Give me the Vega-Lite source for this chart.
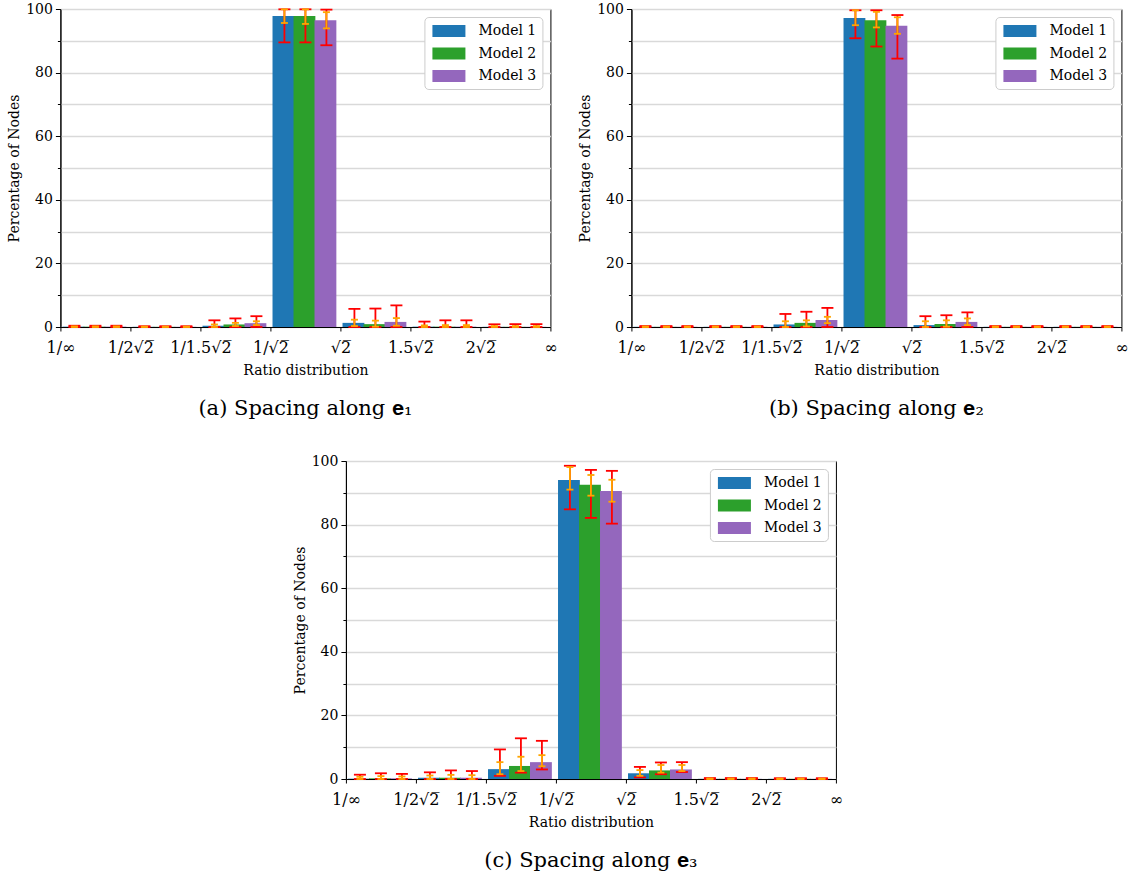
{
  "$schema": "https://vega.github.io/schema/vega-lite/v6.json",
  "background": "white",
  "padding": {"top": 1, "left": 7, "right": 0, "bottom": 0},
  "datasets": {
    "edges": [{"pos": 0}, {"pos": 1}, {"pos": 2}, {"pos": 3}, {"pos": 4}, {"pos": 5}, {"pos": 6}, {"pos": 7}],
    "bars": [
      {"p": "a", "b": 0, "m": "Model 1", "v": 0.1, "rl": 0, "rh": 0.4, "ol": 0, "oh": 0.2},
      {"p": "a", "b": 0, "m": "Model 2", "v": 0.1, "rl": 0, "rh": 0.4, "ol": 0, "oh": 0.2},
      {"p": "a", "b": 0, "m": "Model 3", "v": 0.1, "rl": 0, "rh": 0.4, "ol": 0, "oh": 0.2},
      {"p": "a", "b": 1, "m": "Model 1", "v": 0.05, "rl": 0, "rh": 0.25, "ol": 0, "oh": 0.12},
      {"p": "a", "b": 1, "m": "Model 2", "v": 0.05, "rl": 0, "rh": 0.25, "ol": 0, "oh": 0.12},
      {"p": "a", "b": 1, "m": "Model 3", "v": 0.05, "rl": 0, "rh": 0.25, "ol": 0, "oh": 0.12},
      {"p": "a", "b": 2, "m": "Model 1", "v": 0.4, "rl": 0, "rh": 2.1, "ol": 0, "oh": 0.8},
      {"p": "a", "b": 2, "m": "Model 2", "v": 0.8, "rl": 0, "rh": 2.7, "ol": 0.3, "oh": 1.3},
      {"p": "a", "b": 2, "m": "Model 3", "v": 1.2, "rl": 0, "rh": 3.4, "ol": 0.6, "oh": 1.8},
      {"p": "a", "b": 3, "m": "Model 1", "v": 97.8, "rl": 89.5, "rh": 99.9, "ol": 95.6, "oh": 99.9},
      {"p": "a", "b": 3, "m": "Model 2", "v": 97.8, "rl": 89.5, "rh": 99.9, "ol": 95.3, "oh": 99.9},
      {"p": "a", "b": 3, "m": "Model 3", "v": 96.5, "rl": 88.6, "rh": 99.8, "ol": 93.9, "oh": 99.0},
      {"p": "a", "b": 4, "m": "Model 1", "v": 1.3, "rl": 0, "rh": 5.7, "ol": 0.3, "oh": 2.3},
      {"p": "a", "b": 4, "m": "Model 2", "v": 0.9, "rl": 0, "rh": 5.8, "ol": 0.1, "oh": 2.0},
      {"p": "a", "b": 4, "m": "Model 3", "v": 1.6, "rl": 0, "rh": 6.8, "ol": 0.4, "oh": 2.8},
      {"p": "a", "b": 5, "m": "Model 1", "v": 0.1, "rl": 0, "rh": 1.7, "ol": 0, "oh": 0.5},
      {"p": "a", "b": 5, "m": "Model 2", "v": 0.1, "rl": 0, "rh": 2.1, "ol": 0, "oh": 0.6},
      {"p": "a", "b": 5, "m": "Model 3", "v": 0.1, "rl": 0, "rh": 2.1, "ol": 0, "oh": 0.6},
      {"p": "a", "b": 6, "m": "Model 1", "v": 0.05, "rl": 0, "rh": 0.85, "ol": 0, "oh": 0.3},
      {"p": "a", "b": 6, "m": "Model 2", "v": 0.05, "rl": 0, "rh": 0.9, "ol": 0, "oh": 0.3},
      {"p": "a", "b": 6, "m": "Model 3", "v": 0.05, "rl": 0, "rh": 0.9, "ol": 0, "oh": 0.3},
      {"p": "b", "b": 0, "m": "Model 1", "v": 0.05, "rl": 0, "rh": 0.3, "ol": 0, "oh": 0.15},
      {"p": "b", "b": 0, "m": "Model 2", "v": 0.05, "rl": 0, "rh": 0.3, "ol": 0, "oh": 0.15},
      {"p": "b", "b": 0, "m": "Model 3", "v": 0.05, "rl": 0, "rh": 0.3, "ol": 0, "oh": 0.15},
      {"p": "b", "b": 1, "m": "Model 1", "v": 0.05, "rl": 0, "rh": 0.3, "ol": 0, "oh": 0.15},
      {"p": "b", "b": 1, "m": "Model 2", "v": 0.05, "rl": 0, "rh": 0.3, "ol": 0, "oh": 0.15},
      {"p": "b", "b": 1, "m": "Model 3", "v": 0.05, "rl": 0, "rh": 0.3, "ol": 0, "oh": 0.15},
      {"p": "b", "b": 2, "m": "Model 1", "v": 0.8, "rl": 0, "rh": 4.1, "ol": 0, "oh": 1.8},
      {"p": "b", "b": 2, "m": "Model 2", "v": 1.3, "rl": 0, "rh": 4.8, "ol": 0.2, "oh": 2.1},
      {"p": "b", "b": 2, "m": "Model 3", "v": 2.2, "rl": 0, "rh": 6.0, "ol": 1.2, "oh": 3.2},
      {"p": "b", "b": 3, "m": "Model 1", "v": 97.2, "rl": 90.8, "rh": 99.6, "ol": 94.9, "oh": 99.6},
      {"p": "b", "b": 3, "m": "Model 2", "v": 96.5, "rl": 88.2, "rh": 99.6, "ol": 94.2, "oh": 99.1},
      {"p": "b", "b": 3, "m": "Model 3", "v": 94.7, "rl": 84.4, "rh": 98.1, "ol": 92.2, "oh": 97.4},
      {"p": "b", "b": 4, "m": "Model 1", "v": 0.6, "rl": 0, "rh": 3.4, "ol": 0, "oh": 1.8},
      {"p": "b", "b": 4, "m": "Model 2", "v": 0.95, "rl": 0, "rh": 3.7, "ol": 0.1, "oh": 2.1},
      {"p": "b", "b": 4, "m": "Model 3", "v": 1.6, "rl": 0, "rh": 4.6, "ol": 0.6, "oh": 2.7},
      {"p": "b", "b": 5, "m": "Model 1", "v": 0.05, "rl": 0, "rh": 0.3, "ol": 0, "oh": 0.15},
      {"p": "b", "b": 5, "m": "Model 2", "v": 0.05, "rl": 0, "rh": 0.3, "ol": 0, "oh": 0.15},
      {"p": "b", "b": 5, "m": "Model 3", "v": 0.05, "rl": 0, "rh": 0.3, "ol": 0, "oh": 0.15},
      {"p": "b", "b": 6, "m": "Model 1", "v": 0.05, "rl": 0, "rh": 0.3, "ol": 0, "oh": 0.15},
      {"p": "b", "b": 6, "m": "Model 2", "v": 0.05, "rl": 0, "rh": 0.3, "ol": 0, "oh": 0.15},
      {"p": "b", "b": 6, "m": "Model 3", "v": 0.05, "rl": 0, "rh": 0.3, "ol": 0, "oh": 0.15},
      {"p": "c", "b": 0, "m": "Model 1", "v": 0.1, "rl": 0, "rh": 1.35, "ol": 0, "oh": 0.7},
      {"p": "c", "b": 0, "m": "Model 2", "v": 0.2, "rl": 0, "rh": 1.8, "ol": 0, "oh": 0.9},
      {"p": "c", "b": 0, "m": "Model 3", "v": 0.2, "rl": 0, "rh": 1.6, "ol": 0, "oh": 0.8},
      {"p": "c", "b": 1, "m": "Model 1", "v": 0.4, "rl": 0, "rh": 2.1, "ol": 0, "oh": 1.1},
      {"p": "c", "b": 1, "m": "Model 2", "v": 0.4, "rl": 0, "rh": 2.7, "ol": 0, "oh": 1.3},
      {"p": "c", "b": 1, "m": "Model 3", "v": 0.4, "rl": 0, "rh": 2.5, "ol": 0, "oh": 1.2},
      {"p": "c", "b": 2, "m": "Model 1", "v": 3.1, "rl": 1.0, "rh": 9.3, "ol": 1.5, "oh": 5.3},
      {"p": "c", "b": 2, "m": "Model 2", "v": 4.1, "rl": 2.0, "rh": 12.8, "ol": 2.5, "oh": 7.0},
      {"p": "c", "b": 2, "m": "Model 3", "v": 5.3, "rl": 3.0, "rh": 12.0, "ol": 4.0, "oh": 7.5},
      {"p": "c", "b": 3, "m": "Model 1", "v": 94.0, "rl": 84.8, "rh": 98.5, "ol": 91.0, "oh": 98.1},
      {"p": "c", "b": 3, "m": "Model 2", "v": 92.5, "rl": 82.1, "rh": 97.2, "ol": 89.1, "oh": 95.6},
      {"p": "c", "b": 3, "m": "Model 3", "v": 90.6, "rl": 80.3, "rh": 96.9, "ol": 87.2, "oh": 94.1},
      {"p": "c", "b": 4, "m": "Model 1", "v": 1.8, "rl": 0.5, "rh": 3.8, "ol": 1.0, "oh": 2.8},
      {"p": "c", "b": 4, "m": "Model 2", "v": 2.7, "rl": 1.5, "rh": 5.2, "ol": 2.0, "oh": 4.4},
      {"p": "c", "b": 4, "m": "Model 3", "v": 3.0, "rl": 2.2, "rh": 5.3, "ol": 2.5, "oh": 4.4},
      {"p": "c", "b": 5, "m": "Model 1", "v": 0.05, "rl": 0, "rh": 0.3, "ol": 0, "oh": 0.15},
      {"p": "c", "b": 5, "m": "Model 2", "v": 0.05, "rl": 0, "rh": 0.3, "ol": 0, "oh": 0.15},
      {"p": "c", "b": 5, "m": "Model 3", "v": 0.05, "rl": 0, "rh": 0.3, "ol": 0, "oh": 0.15},
      {"p": "c", "b": 6, "m": "Model 1", "v": 0.05, "rl": 0, "rh": 0.25, "ol": 0, "oh": 0.12},
      {"p": "c", "b": 6, "m": "Model 2", "v": 0.05, "rl": 0, "rh": 0.25, "ol": 0, "oh": 0.12},
      {"p": "c", "b": 6, "m": "Model 3", "v": 0.05, "rl": 0, "rh": 0.25, "ol": 0, "oh": 0.12}
    ]
  },
  "vconcat": [
    {
      "hconcat": [
        {
          "width": 490, "height": 318,
          "title": {"text": "(a) Spacing along 𝐞₁", "orient": "bottom", "offset": 21},
          "layer": [
            {
              "data": {"name": "edges"},
              "mark": {"type": "rule", "opacity": 0},
              "encoding": {
                "x": {"field": "pos", "type": "quantitative", "scale": {"domain": [0, 7], "nice": false, "zero": false},
                      "axis": {"values": [0, 1, 2, 3, 4, 5, 6, 7], "title": "Ratio distribution", "grid": false,
                               "labelExpr": "['1/∞','1/2√2̅','1/1.5√2̅','1/√2̅','√2̅','1.5√2̅','2√2̅','∞'][datum.value]"}}
              }
            },
            {
              "data": {"name": "bars"},
              "transform": [{"filter": "datum.p == 'a'"}],
              "encoding": {
                "x": {"field": "b", "type": "ordinal", "scale": {"paddingInner": 0, "paddingOuter": 0}, "axis": null},
                "xOffset": {"field": "m", "type": "nominal", "scale": {"paddingInner": 0, "paddingOuter": 0.1667}}
              },
              "layer": [
                {"mark": {"type": "bar", "width": {"band": 1.04}},
                 "encoding": {"y": {"field": "v", "type": "quantitative", "scale": {"domain": [0, 100], "nice": false}, "title": "Percentage of Nodes"},
                              "color": {"field": "m", "type": "nominal", "scale": {"domain": ["Model 1", "Model 2", "Model 3"], "range": ["#1f77b4", "#2ca02c", "#9467bd"]}, "legend": {"title": null}}}},
                {"mark": {"type": "rule", "color": "#ff0000", "strokeWidth": 1.8},
                 "encoding": {"y": {"field": "rl", "type": "quantitative", "title": "Percentage of Nodes"}, "y2": {"field": "rh"}}},
                {"mark": {"type": "tick", "color": "#ff0000", "size": 12, "thickness": 1.8, "opacity": 1},
                 "encoding": {"y": {"field": "rl", "type": "quantitative", "title": "Percentage of Nodes"}}},
                {"mark": {"type": "tick", "color": "#ff0000", "size": 12, "thickness": 1.8, "opacity": 1},
                 "encoding": {"y": {"field": "rh", "type": "quantitative", "title": "Percentage of Nodes"}}},
                {"mark": {"type": "rule", "color": "#ffa500", "strokeWidth": 1.8},
                 "encoding": {"y": {"field": "ol", "type": "quantitative", "title": "Percentage of Nodes"}, "y2": {"field": "oh"}}},
                {"mark": {"type": "tick", "color": "#ffa500", "size": 7, "thickness": 1.8, "opacity": 1},
                 "encoding": {"y": {"field": "ol", "type": "quantitative", "title": "Percentage of Nodes"}}},
                {"mark": {"type": "tick", "color": "#ffa500", "size": 7, "thickness": 1.8, "opacity": 1},
                 "encoding": {"y": {"field": "oh", "type": "quantitative", "title": "Percentage of Nodes"}}}
              ]
            }
          ],
          "resolve": {"scale": {"x": "independent"}}
        },
        {
          "width": 490, "height": 318,
          "title": {"text": "(b) Spacing along 𝐞₂", "orient": "bottom", "offset": 21},
          "layer": [
            {
              "data": {"name": "edges"},
              "mark": {"type": "rule", "opacity": 0},
              "encoding": {
                "x": {"field": "pos", "type": "quantitative", "scale": {"domain": [0, 7], "nice": false, "zero": false},
                      "axis": {"values": [0, 1, 2, 3, 4, 5, 6, 7], "title": "Ratio distribution", "grid": false,
                               "labelExpr": "['1/∞','1/2√2̅','1/1.5√2̅','1/√2̅','√2̅','1.5√2̅','2√2̅','∞'][datum.value]"}}
              }
            },
            {
              "data": {"name": "bars"},
              "transform": [{"filter": "datum.p == 'b'"}],
              "encoding": {
                "x": {"field": "b", "type": "ordinal", "scale": {"paddingInner": 0, "paddingOuter": 0}, "axis": null},
                "xOffset": {"field": "m", "type": "nominal", "scale": {"paddingInner": 0, "paddingOuter": 0.1667}}
              },
              "layer": [
                {"mark": {"type": "bar", "width": {"band": 1.04}},
                 "encoding": {"y": {"field": "v", "type": "quantitative", "scale": {"domain": [0, 100], "nice": false}, "title": "Percentage of Nodes"},
                              "color": {"field": "m", "type": "nominal", "scale": {"domain": ["Model 1", "Model 2", "Model 3"], "range": ["#1f77b4", "#2ca02c", "#9467bd"]}, "legend": {"title": null}}}},
                {"mark": {"type": "rule", "color": "#ff0000", "strokeWidth": 1.8},
                 "encoding": {"y": {"field": "rl", "type": "quantitative", "title": "Percentage of Nodes"}, "y2": {"field": "rh"}}},
                {"mark": {"type": "tick", "color": "#ff0000", "size": 12, "thickness": 1.8, "opacity": 1},
                 "encoding": {"y": {"field": "rl", "type": "quantitative", "title": "Percentage of Nodes"}}},
                {"mark": {"type": "tick", "color": "#ff0000", "size": 12, "thickness": 1.8, "opacity": 1},
                 "encoding": {"y": {"field": "rh", "type": "quantitative", "title": "Percentage of Nodes"}}},
                {"mark": {"type": "rule", "color": "#ffa500", "strokeWidth": 1.8},
                 "encoding": {"y": {"field": "ol", "type": "quantitative", "title": "Percentage of Nodes"}, "y2": {"field": "oh"}}},
                {"mark": {"type": "tick", "color": "#ffa500", "size": 7, "thickness": 1.8, "opacity": 1},
                 "encoding": {"y": {"field": "ol", "type": "quantitative", "title": "Percentage of Nodes"}}},
                {"mark": {"type": "tick", "color": "#ffa500", "size": 7, "thickness": 1.8, "opacity": 1},
                 "encoding": {"y": {"field": "oh", "type": "quantitative", "title": "Percentage of Nodes"}}}
              ]
            }
          ],
          "resolve": {"scale": {"x": "independent"}}
        }
      ],
      "spacing": 19,
      "resolve": {"scale": {"color": "independent"}, "legend": {"color": "independent"}}
    },
    {
      "width": 490, "height": 318,
      "title": {"text": "(c) Spacing along 𝐞₃", "orient": "bottom", "offset": 21},
      "layer": [
        {
          "data": {"name": "edges"},
          "mark": {"type": "rule", "opacity": 0},
          "encoding": {
            "x": {"field": "pos", "type": "quantitative", "scale": {"domain": [0, 7], "nice": false, "zero": false},
                  "axis": {"values": [0, 1, 2, 3, 4, 5, 6, 7], "title": "Ratio distribution", "grid": false,
                           "labelExpr": "['1/∞','1/2√2̅','1/1.5√2̅','1/√2̅','√2̅','1.5√2̅','2√2̅','∞'][datum.value]"}}
          }
        },
        {
          "data": {"name": "bars"},
          "transform": [{"filter": "datum.p == 'c'"}],
          "encoding": {
            "x": {"field": "b", "type": "ordinal", "scale": {"paddingInner": 0, "paddingOuter": 0}, "axis": null},
            "xOffset": {"field": "m", "type": "nominal", "scale": {"paddingInner": 0, "paddingOuter": 0.1667}}
          },
          "layer": [
            {"mark": {"type": "bar", "width": {"band": 1.04}},
             "encoding": {"y": {"field": "v", "type": "quantitative", "scale": {"domain": [0, 100], "nice": false}, "title": "Percentage of Nodes"},
                          "color": {"field": "m", "type": "nominal", "scale": {"domain": ["Model 1", "Model 2", "Model 3"], "range": ["#1f77b4", "#2ca02c", "#9467bd"]}, "legend": {"title": null}}}},
            {"mark": {"type": "rule", "color": "#ff0000", "strokeWidth": 1.8},
             "encoding": {"y": {"field": "rl", "type": "quantitative", "title": "Percentage of Nodes"}, "y2": {"field": "rh"}}},
            {"mark": {"type": "tick", "color": "#ff0000", "size": 12, "thickness": 1.8, "opacity": 1},
             "encoding": {"y": {"field": "rl", "type": "quantitative", "title": "Percentage of Nodes"}}},
            {"mark": {"type": "tick", "color": "#ff0000", "size": 12, "thickness": 1.8, "opacity": 1},
             "encoding": {"y": {"field": "rh", "type": "quantitative", "title": "Percentage of Nodes"}}},
            {"mark": {"type": "rule", "color": "#ffa500", "strokeWidth": 1.8},
             "encoding": {"y": {"field": "ol", "type": "quantitative", "title": "Percentage of Nodes"}, "y2": {"field": "oh"}}},
            {"mark": {"type": "tick", "color": "#ffa500", "size": 7, "thickness": 1.8, "opacity": 1},
             "encoding": {"y": {"field": "ol", "type": "quantitative", "title": "Percentage of Nodes"}}},
            {"mark": {"type": "tick", "color": "#ffa500", "size": 7, "thickness": 1.8, "opacity": 1},
             "encoding": {"y": {"field": "oh", "type": "quantitative", "title": "Percentage of Nodes"}}}
          ]
        }
      ],
      "resolve": {"scale": {"x": "independent"}}
    }
  ],
  "spacing": 33,
  "center": true,
  "resolve": {"scale": {"color": "independent"}, "legend": {"color": "independent"}},
  "config": {
    "font": "DejaVu Serif",
    "view": {"stroke": "black", "strokeWidth": 1},
    "title": {"font": "DejaVu Serif", "fontSize": 21, "fontWeight": "normal", "color": "black"},
    "axis": {
      "labelFont": "DejaVu Serif", "titleFont": "DejaVu Serif", "labelColor": "black", "titleColor": "black",
      "titleFontWeight": "normal", "domainColor": "black", "tickColor": "black", "labelFontSize": 14, "titleFontSize": 14
    },
    "axisX": {"labelAngle": 0, "tickSize": 4, "labelPadding": 8, "labelOverlap": false, "labelBound": false, "labelFlush": false, "titlePadding": 8, "labelFontSize": 16},
    "axisY": {
      "values": [0, 5, 10, 15, 20, 25, 30, 35, 40, 45, 50, 55, 60, 65, 70, 75, 80, 85, 90, 95, 100],
      "labelExpr": "datum.value % 20 == 0 ? datum.value : ''",
      "grid": true, "gridColor": "#d9d9d9", "gridWidth": 1.3,
      "tickSize": {"condition": {"test": "datum.value % 20 == 0", "value": 5}, "value": 3},
      "labelPadding": 3, "titlePadding": 4, "labelOverlap": false
    },
    "legend": {
      "orient": "top-right", "offset": 8, "strokeColor": "#cccccc", "fillColor": "white", "padding": 6, "cornerRadius": 4,
      "symbolType": "M-0.75,-0.75H3.375V0.75H-0.75Z", "symbolSize": 256, "symbolStrokeWidth": 0, "symbolOpacity": 1,
      "labelFont": "DejaVu Serif", "labelFontSize": 14, "labelColor": "black", "labelOffset": 32, "rowPadding": 7.5
    }
  }
}
